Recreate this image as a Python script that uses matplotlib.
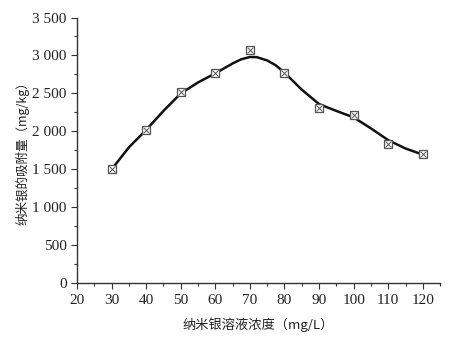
import numpy as np
import matplotlib.pyplot as plt
from matplotlib.ticker import MultipleLocator, FuncFormatter

# 测量点
conc = [30, 40, 50, 60, 70, 80, 90, 100, 110, 120]
adsorb = [1510, 2020, 2515, 2770, 3070, 2770, 2310, 2210, 1830, 1700]

# 拟合曲线
curve_x = [30, 35, 40, 45, 50, 55, 60, 65, 67.5, 70, 72, 75, 77.5, 80, 85, 90, 95, 100, 105, 110, 115, 120]
curve_y = [1500, 1790, 2020, 2270, 2500, 2645, 2765, 2895, 2950, 2980, 2978, 2935, 2870, 2775, 2550, 2360, 2270, 2185, 2040, 1885, 1775, 1695]

cjk = ['Noto Sans CJK SC', 'DejaVu Sans']
serif = 'Liberation Serif'

fig = plt.figure(figsize=(4.57, 3.42), dpi=100)
ax = fig.add_axes([0.1685, 0.1716, 0.7945, 0.7772])

ax.plot(curve_x, curve_y, c='#111111', lw=1.8, zorder=2)
ax.plot(conc, adsorb, ls='none', marker='s', ms=6, mfc='white', mec='#555555', mew=0.9, zorder=3)
ax.plot(conc, adsorb, ls='none', marker='x', ms=4.5, mec='#555555', mew=0.7, zorder=4)

ax.set_xlim(20, 125)
ax.set_ylim(0, 3500)
ax.xaxis.set_major_locator(MultipleLocator(10))
ax.xaxis.set_minor_locator(MultipleLocator(5))
ax.yaxis.set_major_locator(MultipleLocator(500))
ax.yaxis.set_minor_locator(MultipleLocator(250))
ax.set_xticks(np.arange(20, 121, 10))


def fmt(v, pos):
    v = int(round(v))
    if v >= 1000:
        return '%d %03d' % (v // 1000, v % 1000)
    return str(v)


ax.yaxis.set_major_formatter(FuncFormatter(fmt))

for s in ['top', 'right']:
    ax.spines[s].set_visible(False)
for s in ['left', 'bottom']:
    ax.spines[s].set_color('#333333')
    ax.spines[s].set_linewidth(1.0)

ax.tick_params(which='major', direction='out', length=4, width=0.8, color='#333333')
ax.tick_params(which='minor', direction='out', length=2.5, width=0.8, color='#333333')
for lab in ax.get_xticklabels() + ax.get_yticklabels():
    lab.set_fontfamily(serif)
    lab.set_fontsize(11)
    lab.set_color('#222222')

ax.set_xlabel('纳米银溶液浓度（mg/L）', family=cjk, fontsize=9.5, color='#222222', labelpad=8)
ax.set_ylabel('纳米银的吸附量（mg/kg）', family=cjk, fontsize=9, color='#222222', labelpad=2)

fig.savefig('out.png', dpi=100)
